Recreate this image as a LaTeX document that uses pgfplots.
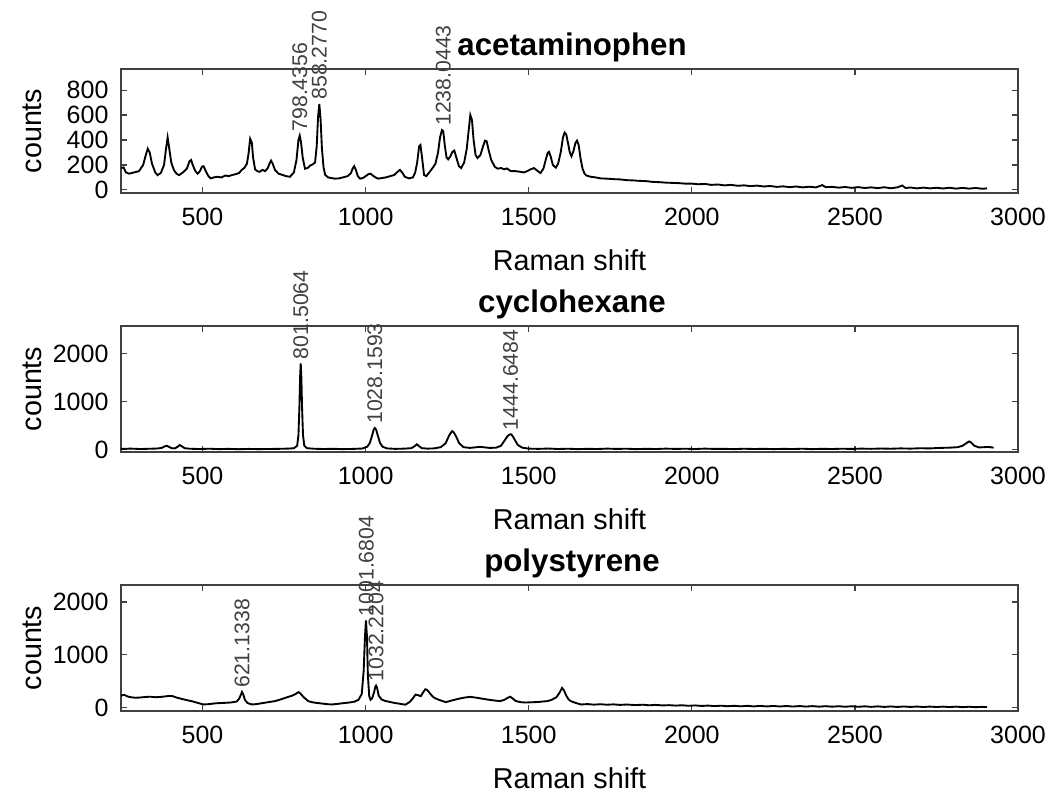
\documentclass[border=0pt]{standalone}
\usepackage{fontspec}
\setmainfont{Liberation Sans}
\usepackage{pgfplots}
\pgfplotsset{compat=1.18}

\pgfplotsset{
  ramanax/.style={
    scale only axis, width=358.8pt, height=50pt,
    xmin=250, xmax=3000,
    xtick={500,1000,...,3000},
    tick align=inside,
    major tick length=2.5pt,
    axis line style={black!75, line width=0.6pt},
    tick style={black!75, line width=0.5pt},
    /pgf/number format/1000 sep={},
    /pgf/number format/assume math mode=true,
    tick label style={font=\fontsize{10}{12}\selectfont},
    xticklabel style={yshift=-2.5pt},
    yticklabel style={xshift=-1.5pt},
    label style={font=\fontsize{11.5}{12}\selectfont},
    every axis title shift=0pt,
    title style={font=\bfseries\fontsize{12.5}{13}\selectfont, at={(axis description cs:0.5,1)}, anchor=center, yshift=8.8pt, xshift=1pt},
    xlabel={Raman shift},
    ylabel={counts},
    xlabel style={at={(axis description cs:0.5,0)}, anchor=center, yshift=-27pt},
    ylabel style={at={(axis description cs:-0.099,0.5)}, anchor=center},
    clip=false,
  },
  spec/.style={black, line width=0.75pt},
}
\tikzset{pk/.style={rotate=90, anchor=west, inner sep=1.5pt, text=black!75, font=\fontsize{8.5}{9}\selectfont}}

\pgfplotstableread{
x y
250 175
258 180
265 140
275 130
290 140
305 150
318 200
325 270
332 330
338 300
345 210
355 140
362 118
372 135
382 200
388 330
393 420
398 330
404 220
412 160
420 130
428 118
440 140
452 170
460 230
465 240
470 200
478 150
485 130
492 150
498 185
503 190
510 150
518 110
525 92
535 100
545 105
558 100
570 115
580 110
592 120
600 125
612 135
620 160
628 175
636 210
641 290
646 410
651 380
655 260
661 165
668 150
675 145
684 160
692 150
700 175
706 215
710 235
715 210
722 160
733 130
745 120
756 110
768 105
780 140
788 240
794 400
798 435
802 380
807 260
814 170
822 175
830 195
838 205
845 220
850 350
854 580
858 690
862 560
866 330
871 180
876 120
885 100
895 95
906 90
918 92
930 100
945 110
955 135
960 170
965 190
970 160
976 110
983 90
992 95
1000 110
1008 125
1015 130
1022 115
1030 100
1039 90
1050 95
1062 100
1075 110
1088 120
1098 145
1105 160
1112 140
1120 105
1133 92
1145 100
1152 140
1158 220
1164 350
1168 360
1173 260
1179 120
1186 110
1195 140
1205 175
1214 210
1222 300
1228 420
1234 480
1238 470
1243 350
1248 260
1253 245
1260 270
1266 305
1272 315
1278 260
1286 190
1293 175
1302 220
1310 330
1316 480
1321 600
1326 560
1331 400
1337 280
1343 255
1352 280
1360 350
1366 395
1371 390
1377 320
1385 240
1396 185
1405 170
1415 175
1425 165
1433 172
1445 150
1460 150
1474 145
1485 140
1495 150
1506 165
1516 175
1528 150
1536 135
1545 170
1552 240
1558 295
1562 305
1567 270
1574 200
1583 178
1590 210
1598 300
1605 420
1610 460
1615 445
1620 380
1626 300
1631 270
1637 310
1643 375
1648 395
1653 360
1659 250
1665 170
1671 130
1677 115
1690 105
1705 100
1720 92
1740 90
1760 86
1780 84
1800 78
1820 76
1840 72
1860 70
1880 64
1900 62
1920 58
1940 56
1960 54
1980 50
2000 50
2020 45
2040 48
2060 40
2080 43
2100 36
2120 40
2140 33
2160 36
2180 30
2200 34
2220 27
2240 31
2260 24
2280 28
2300 22
2320 27
2340 20
2360 25
2380 20
2400 38
2410 22
2430 24
2450 18
2470 23
2490 16
2510 22
2530 15
2550 20
2570 14
2590 21
2610 13
2630 20
2645 35
2655 15
2670 19
2690 12
2710 18
2730 12
2750 17
2770 11
2790 17
2810 10
2830 16
2850 10
2870 15
2890 9
2905 12
}\acet

\pgfplotstableread{
x y
250 15
280 20
310 12
340 18
360 22
375 35
385 70
390 80
396 60
405 30
415 25
424 60
430 95
436 70
445 30
460 18
490 12
520 18
550 10
580 15
610 8
640 14
670 10
700 12
730 15
760 20
780 28
790 80
794 300
797 900
799 1500
801 1800
803 1500
805 900
808 300
812 80
820 30
840 18
870 12
900 16
930 10
960 14
990 22
1005 60
1013 140
1020 300
1025 420
1028 450
1032 420
1037 300
1044 140
1052 60
1065 25
1090 15
1120 20
1140 30
1150 70
1157 110
1164 70
1172 30
1190 20
1210 25
1230 50
1245 130
1255 280
1262 360
1266 385
1270 360
1277 280
1287 130
1300 50
1320 35
1340 50
1350 58
1360 50
1380 35
1400 40
1415 80
1425 180
1435 280
1440 310
1445 320
1449 300
1456 220
1466 100
1480 40
1500 20
1530 15
1560 22
1590 12
1620 18
1650 10
1680 16
1710 12
1740 20
1770 14
1800 18
1830 10
1860 16
1890 12
1920 20
1950 14
1980 18
2010 12
2040 20
2070 14
2100 16
2130 10
2160 18
2190 12
2220 16
2250 10
2280 15
2310 12
2340 18
2370 10
2400 16
2430 12
2460 18
2490 14
2520 20
2550 16
2580 22
2610 18
2640 25
2670 20
2700 28
2730 25
2760 35
2790 40
2815 50
2830 80
2843 140
2850 170
2856 150
2866 80
2880 45
2895 50
2905 55
2915 50
2925 40
}\cyclo

\pgfplotstableread{
x y
250 230
260 245
270 215
280 200
294 190
310 195
325 205
340 210
355 200
370 205
385 215
398 225
408 220
420 195
435 170
452 145
470 120
487 90
503 63
520 70
540 85
555 90
569 94
585 100
597 110
605 120
612 170
617 240
621 300
625 250
630 150
638 90
651 63
665 70
680 85
695 100
710 115
722 126
735 150
750 180
763 207
775 230
785 260
794 296
800 270
810 200
824 126
840 100
860 85
880 70
896 63
915 75
935 90
950 100
965 115
978 150
988 260
994 700
998 1350
1001 1650
1004 1350
1007 600
1011 220
1015 150
1020 180
1026 300
1030 400
1032 420
1035 380
1040 230
1049 157
1060 130
1075 110
1090 90
1100 82
1110 70
1122 60
1135 110
1145 180
1153 250
1160 240
1169 220
1176 290
1183 350
1188 340
1195 290
1203 230
1210 190
1225 150
1246 107
1265 140
1285 170
1300 190
1319 207
1335 195
1350 180
1360 170
1380 150
1400 135
1412 126
1425 150
1436 190
1443 210
1450 180
1460 130
1474 107
1490 100
1510 105
1530 110
1545 120
1557 126
1570 150
1585 200
1595 290
1602 377
1608 330
1615 230
1622 160
1629 126
1645 90
1660 63
1680 70
1700 60
1720 68
1740 58
1760 65
1780 55
1800 62
1826 52
1850 58
1870 48
1890 55
1910 45
1930 50
1950 42
1970 48
1990 38
2010 45
2030 35
2050 42
2070 32
2090 40
2110 30
2130 38
2150 28
2170 37
2190 27
2210 36
2230 26
2250 35
2270 25
2290 34
2310 24
2330 33
2350 23
2370 32
2390 22
2410 31
2430 21
2450 30
2470 20
2490 29
2510 19
2530 28
2550 18
2570 27
2590 17
2610 26
2630 16
2650 25
2670 16
2690 24
2710 15
2730 23
2750 15
2770 22
2790 14
2810 22
2830 13
2850 20
2870 12
2890 18
2905 14
}\poly

\begin{document}
\begin{tikzpicture}
\path[use as bounding box] (0,0) rectangle (420.4pt,317.2pt);

\begin{axis}[ramanax, at={(48.4pt,240pt)}, anchor=south west, height=49.6pt,
  ymin=-25, ymax=970, ytick={0,200,...,800}, title={acetaminophen}]
\addplot[spec] table[x=x,y=y] {\acet};
\node[pk] at (axis cs:798.4356,435) {798.4356};
\node[pk] at (axis cs:858.2770,690) {858.2770};
\node[pk] at (axis cs:1238.0443,480) {1238.0443};
\end{axis}

\begin{axis}[ramanax, at={(48.4pt,136.4pt)}, anchor=south west, height=50.4pt,
  ymin=-50, ymax=2580, ytick={0,1000,2000}, title={cyclohexane}]
\addplot[spec] table[x=x,y=y] {\cyclo};
\node[pk] at (axis cs:801.5064,1800) {801.5064};
\node[pk] at (axis cs:1028.1593,450) {1028.1593};
\node[pk] at (axis cs:1444.6484,320) {1444.6484};
\end{axis}

\begin{axis}[ramanax, at={(48.4pt,32.8pt)}, anchor=south west, height=50.4pt,
  ymin=-60, ymax=2320, ytick={0,1000,2000}, title={polystyrene}]
\addplot[spec] table[x=x,y=y] {\poly};
\node[pk] at (axis cs:621.1338,300) {621.1338};
\node[pk] at (axis cs:1001.6804,1650) {1001.6804};
\node[pk] at (axis cs:1032.2204,420) {1032.2204};
\end{axis}
\end{tikzpicture}
\end{document}
